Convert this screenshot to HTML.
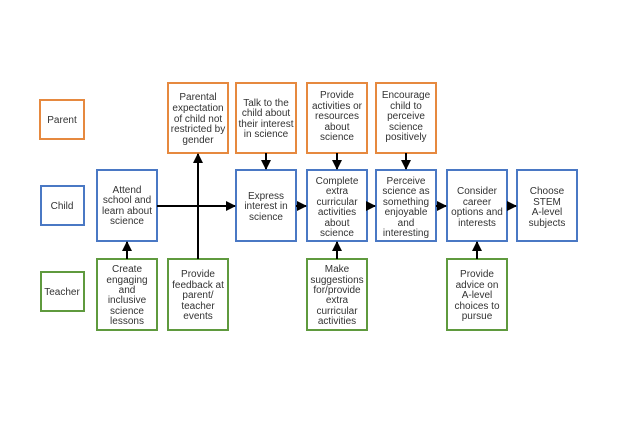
<!DOCTYPE html>
<html><head><meta charset="utf-8"><style>
body{margin:0;background:#fff;width:630px;height:420px;overflow:hidden}
svg text{font-family:"Liberation Sans",Arial,sans-serif;font-size:10px;fill:#333;text-anchor:middle}
</style></head><body>
<svg width="630" height="420" xmlns="http://www.w3.org/2000/svg">
<defs><marker id="a" markerWidth="10" markerHeight="10" refX="9" refY="5" orient="auto" markerUnits="userSpaceOnUse"><path d="M0,0L10,5L0,10z" fill="#000"/></marker></defs>
<g fill="none" stroke-width="2">
<g stroke="#e6893f">
<rect x="40" y="100" width="44" height="39"/>
<rect x="168" y="83" width="60" height="70"/>
<rect x="236" y="83" width="60" height="70"/>
<rect x="307" y="83" width="60" height="70"/>
<rect x="376" y="83" width="60" height="70"/>
</g>
<g stroke="#4a78c4">
<rect x="41" y="186" width="43" height="39"/>
<rect x="97" y="170" width="60" height="71"/>
<rect x="236" y="170" width="60" height="71"/>
<rect x="307" y="170" width="60" height="71"/>
<rect x="376" y="170" width="60" height="71"/>
<rect x="447" y="170" width="60" height="71"/>
<rect x="517" y="170" width="60" height="71"/>
</g>
<g stroke="#5f9a3e">
<rect x="41" y="272" width="43" height="39"/>
<rect x="97" y="259" width="60" height="71"/>
<rect x="168" y="259" width="60" height="71"/>
<rect x="307" y="259" width="60" height="71"/>
<rect x="447" y="259" width="60" height="71"/>
</g>
<g stroke="#000" marker-end="url(#a)">
<line x1="157" y1="206" x2="235" y2="206"/>
<line x1="198" y1="259" x2="198" y2="154"/>
<line x1="266" y1="153" x2="266" y2="169"/>
<line x1="296" y1="206" x2="306" y2="206"/>
<line x1="367" y1="206" x2="375" y2="206"/>
<line x1="436" y1="206" x2="446" y2="206"/>
<line x1="507" y1="206" x2="516" y2="206"/>
<line x1="127" y1="259" x2="127" y2="242"/>
<line x1="337" y1="153" x2="337" y2="169"/>
<line x1="337" y1="259" x2="337" y2="242"/>
<line x1="406" y1="153" x2="406" y2="169"/>
<line x1="477" y1="259" x2="477" y2="242"/>
</g>
</g>
<text x="62" y="123">Parent</text>
<text x="62" y="209">Child</text>
<text x="62" y="295">Teacher</text>
<text x="198" y="100">Parental</text><text x="198" y="111">expectation</text><text x="198" y="122">of child not</text><text x="198" y="132">restricted by</text><text x="198" y="143">gender</text>
<text x="266" y="106">Talk to the</text><text x="266" y="116">child about</text><text x="266" y="127">their interest</text><text x="266" y="137">in science</text>
<text x="337" y="98">Provide</text><text x="337" y="109">activities or</text><text x="337" y="119">resources</text><text x="337" y="130">about</text><text x="337" y="140">science</text>
<text x="406" y="98">Encourage</text><text x="406" y="109">child to</text><text x="406" y="119">perceive</text><text x="406" y="130">science</text><text x="406" y="140">positively</text>
<text x="127" y="193">Attend</text><text x="127" y="203">school and</text><text x="127" y="214">learn about</text><text x="127" y="224">science</text>
<text x="266" y="199">Express</text><text x="266" y="209">interest in</text><text x="266" y="220">science</text>
<text x="337" y="184">Complete</text><text x="337" y="194">extra</text><text x="337" y="205">curricular</text><text x="337" y="215">activities</text><text x="337" y="226">about</text><text x="337" y="236">science</text>
<text x="406" y="184">Perceive</text><text x="406" y="194">science as</text><text x="406" y="205">something</text><text x="406" y="215">enjoyable</text><text x="406" y="226">and</text><text x="406" y="236">interesting</text>
<text x="477" y="194">Consider</text><text x="477" y="205">career</text><text x="477" y="215">options and</text><text x="477" y="226">interests</text>
<text x="547" y="194">Choose</text><text x="547" y="205">STEM</text><text x="547" y="215">A-level</text><text x="547" y="226">subjects</text>
<text x="127" y="272">Create</text><text x="127" y="283">engaging</text><text x="127" y="293">and</text><text x="127" y="303">inclusive</text><text x="127" y="314">science</text><text x="127" y="324">lessons</text>
<text x="198" y="277">Provide</text><text x="198" y="288">feedback at</text><text x="198" y="298">parent/</text><text x="198" y="309">teacher</text><text x="198" y="319">events</text>
<text x="337" y="272">Make</text><text x="337" y="283">suggestions</text><text x="337" y="293">for/provide</text><text x="337" y="303">extra</text><text x="337" y="314">curricular</text><text x="337" y="324">activities</text>
<text x="477" y="277">Provide</text><text x="477" y="288">advice on</text><text x="477" y="298">A-level</text><text x="477" y="309">choices to</text><text x="477" y="319">pursue</text>
</svg>
</body></html>
